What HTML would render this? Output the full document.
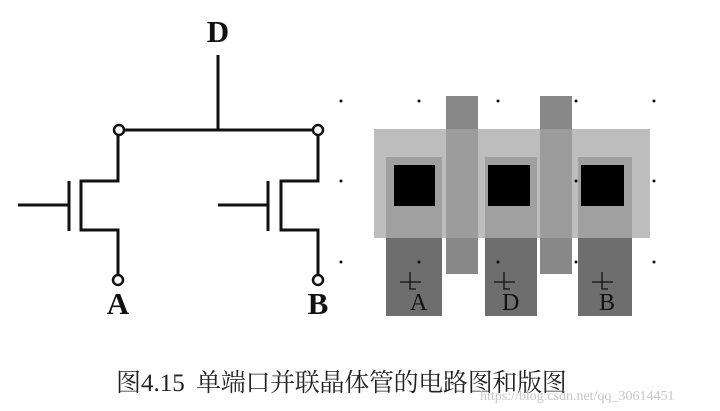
<!DOCTYPE html>
<html><head><meta charset="utf-8"><style>
html,body{margin:0;padding:0;background:#fff;}
body{width:720px;height:411px;position:relative;overflow:hidden;}
.cap{position:absolute;top:363px;font-family:"Liberation Serif","Noto Serif CJK SC",serif;font-size:25px;color:#222;white-space:nowrap;}
.wm{position:absolute;left:480px;top:389px;font-family:"Liberation Serif",serif;font-size:14px;color:#c8c8c8;}
</style></head><body>
<svg width="720" height="411" style="position:absolute;left:0;top:0">
<g stroke="#111" stroke-width="3" fill="none">
<line x1="218" y1="55" x2="218" y2="130"/>
<line x1="124" y1="130" x2="313" y2="130"/>
<polyline points="118,135 118,181 81,181 81,230 118,230 118,275"/>
<line x1="69" y1="181" x2="69" y2="231"/>
<line x1="18" y1="205" x2="69" y2="205"/>
<polyline points="318,135 318,181 281,181 281,230 318,230 318,275"/>
<line x1="268" y1="181" x2="268" y2="231"/>
<line x1="218" y1="205" x2="268" y2="205"/>
</g>
<g stroke="#111" stroke-width="2.5" fill="#fff">
<circle cx="119" cy="130" r="5"/><circle cx="318" cy="130" r="5"/>
<circle cx="118" cy="280" r="5"/><circle cx="318" cy="280" r="5"/>
</g>
<g font-family="Liberation Serif,serif" font-size="31" font-weight="bold" fill="#111" text-anchor="middle">
<text x="218" y="42">D</text><text x="118" y="314">A</text><text x="318" y="314">B</text>
</g>
<rect x="374" y="129" width="276" height="109" fill="#bdbdbd"/>
<rect x="386" y="157" width="56" height="81" fill="#a0a0a0"/>
<rect x="485" y="157" width="52" height="81" fill="#a0a0a0"/>
<rect x="578" y="157" width="54" height="81" fill="#a0a0a0"/>
<rect x="386" y="238" width="56" height="78" fill="#6e6e6e"/>
<rect x="485" y="238" width="52" height="78" fill="#6e6e6e"/>
<rect x="578" y="238" width="54" height="78" fill="#6e6e6e"/>
<rect x="446" y="96" width="32" height="178" fill="#888"/>
<rect x="446" y="129" width="32" height="109" fill="#9c9c9c"/>
<rect x="540" y="96" width="32" height="178" fill="#888"/>
<rect x="540" y="129" width="32" height="109" fill="#9c9c9c"/>
<rect x="394" y="165" width="41" height="41" fill="#000"/>
<rect x="488" y="165" width="42" height="41" fill="#000"/>
<rect x="581" y="165" width="43" height="41" fill="#000"/>
<g fill="#111">
<circle cx="341" cy="101" r="1.5"/><circle cx="419" cy="101" r="1.5"/><circle cx="498" cy="101" r="1.5"/><circle cx="576" cy="101" r="1.5"/><circle cx="654" cy="101" r="1.5"/>
<circle cx="341" cy="181" r="1.5"/><circle cx="576" cy="181" r="1.5"/><circle cx="654" cy="181" r="1.5"/>
<circle cx="341" cy="262" r="1.5"/><circle cx="419" cy="262" r="1.5"/><circle cx="498" cy="262" r="1.5"/><circle cx="576" cy="262" r="1.5"/><circle cx="654" cy="262" r="1.5"/>
</g>
<g stroke="#111" stroke-width="1.3" fill="none">
<path d="M400 282 H421 M410 272 V289 H416"/>
<path d="M494 282 H515 M504 272 V289 H510"/>
<path d="M592 282 H613 M602 272 V289 H608"/>
</g>
<g font-family="Liberation Serif,serif" font-size="24" fill="#111">
<text x="410" y="310">A</text><text x="502" y="310">D</text><text x="599" y="310">B</text>
</g>
</svg>
<div class="cap" style="left:116px">图4.15</div>
<div class="cap" style="left:196px;letter-spacing:-0.3px">单端口并联晶体管的电路图和版图</div>
<div class="wm">https://blog.csdn.net/qq_30614451</div>
</body></html>
